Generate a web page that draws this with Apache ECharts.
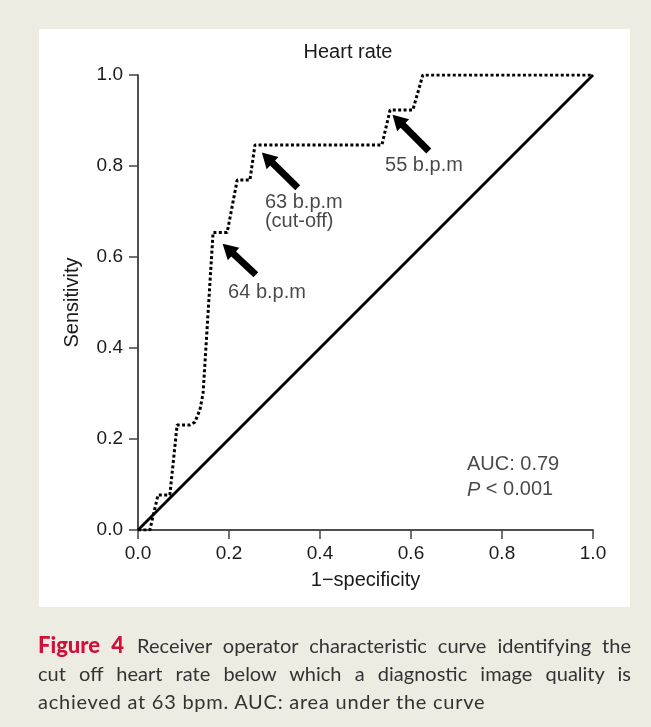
<!DOCTYPE html>
<html>
<head>
<meta charset="utf-8">
<script src="https://cdn.jsdelivr.net/npm/echarts@6/dist/echarts.min.js"></script>
<style>
  html, body { margin:0; padding:0; width:651px; height:727px; background:#edece2; overflow:hidden; }
  #panel { position:absolute; left:39px; top:29px; width:591px; height:578px; background:#ffffff; }
  #chart { position:absolute; left:0; top:0; width:651px; height:727px; }
  #caption { position:absolute; left:38px; top:631px; width:593px; font-family:Lato, "Open Sans", sans-serif;
    font-size:20px; line-height:28px; color:#333; }
  #caption div { white-space:normal; }
  #caption div.j { text-align:justify; text-align-last:justify; }
  #caption div.last { letter-spacing:0.75px; }
  #caption b { color:#d0103a; font-size:22px; font-weight:900; margin-right:2px; }
</style>
</head>
<body>
<div id="panel"></div>
<div id="chart"></div>
<div id="caption">
  <div class="j"><b>Figure 4</b> Receiver operator characteristic curve identifying the</div>
  <div class="j">cut off heart rate below which a diagnostic image quality is</div>
  <div class="last">achieved at 63 bpm. AUC: area under the curve</div>
</div>
<script>
// ROC curve (1-specificity, sensitivity)
const rocX = [0, 0.026, 0.044, 0.070, 0.086, 0.114, 0.125, 0.136, 0.143, 0.165, 0.196, 0.218, 0.246, 0.257, 0.536, 0.554, 0.604, 0.626, 1.0];
const rocY = [0, 0, 0.077, 0.077, 0.231, 0.231, 0.237, 0.264, 0.300, 0.654, 0.654, 0.769, 0.769, 0.846, 0.846, 0.923, 0.923, 1.0, 1.0];
const refX = [0, 1];
const refY = [0, 1];
const xTicks = ['0.0', '0.2', '0.4', '0.6', '0.8', '1.0'];
const yTicks = ['0.0', '0.2', '0.4', '0.6', '0.8', '1.0'];
// arrows: [tailX, tailY, tipX, tipY]
const arrows = [
  [0.259, 0.561, 0.198, 0.618],
  [0.351, 0.752, 0.284, 0.818],
  [0.639, 0.833, 0.571, 0.901]
];
// annotation texts: [x, y, text]
const notes = [
  [0.198, 0.521, '64 b.p.m'],
  [0.279, 0.719, '63 b.p.m'],
  [0.279, 0.677, '(cut-off)'],
  [0.543, 0.802, '55 b.p.m'],
  [0.723, 0.143, 'AUC: 0.79'],
  [0.723, 0.088, '{i|P} < 0.001']
];

const FONT = '"Liberation Sans", Arial, sans-serif';
const TXT = '#1a1a1a';
const chart = echarts.init(document.getElementById('chart'), null, {renderer:'canvas'});
const axisLine = {show:true, lineStyle:{color:'#444', width:1.5}};
chart.setOption({
  backgroundColor:'transparent',
  animation:false,
  grid:{left:138, top:75, width:455, height:455},
  graphic:[{type:'text', x:348, y:52, style:{text:'Heart rate', font:'20px ' + FONT, fill:TXT, textAlign:'center', textVerticalAlign:'middle'}}],
  xAxis:[{
    type:'value', min:0, max:1, interval:0.2, position:'bottom',
    axisLine:axisLine, splitLine:{show:false},
    axisTick:{show:true, length:9, lineStyle:{color:'#444', width:1.5}},
    axisLabel:{margin:14, fontSize:19, fontFamily:FONT, color:TXT, formatter:(v)=>xTicks[Math.round(v/0.2)]},
    name:'1\u2212specificity', nameLocation:'middle', nameGap:40,
    nameTextStyle:{fontSize:20, fontFamily:FONT, color:TXT}
  },{
    type:'value', min:0, max:1, position:'top', axisLine:axisLine, axisTick:{show:false}, axisLabel:{show:false}, splitLine:{show:false}
  }],
  yAxis:[{
    type:'value', min:0, max:1, interval:0.2, position:'left',
    axisLine:axisLine, splitLine:{show:false},
    axisTick:{show:true, length:9, lineStyle:{color:'#444', width:1.5}},
    axisLabel:{margin:15, fontSize:19, fontFamily:FONT, color:TXT, formatter:(v)=>yTicks[Math.round(v/0.2)]},
    name:'Sensitivity', nameLocation:'middle', nameGap:56, nameRotate:90,
    nameTextStyle:{fontSize:20, fontFamily:FONT, color:TXT}
  },{
    type:'value', min:0, max:1, position:'right', axisLine:axisLine, axisTick:{show:false}, axisLabel:{show:false}, splitLine:{show:false}
  }],
  series:[
    {type:'line', data:refX.map((x,i)=>[x, refY[i]]), symbol:'none', lineStyle:{color:'#000', width:2.8}, z:3},
    {type:'line', data:rocX.map((x,i)=>[x, rocY[i]]), symbol:'none', lineStyle:{color:'#000', width:3, type:[3,2.4], cap:'butt'}, z:4,
      markLine:{silent:true, symbol:['none','triangle'], symbolSize:[17,15],
        lineStyle:{color:'#000', width:7, type:'solid'}, label:{show:false},
        data:arrows.map(a=>[{coord:[a[0],a[1]]},{coord:[a[2],a[3]]}])}},
    {type:'scatter', data:notes.map(n=>({value:[n[0],n[1]], text:n[2]})), symbolSize:0, silent:true, z:5,
      label:{show:true, position:'right', distance:0, formatter:(p)=>p.data.text,
        fontSize:20, fontFamily:FONT, color:TXT,
        rich:{i:{fontStyle:'italic', fontSize:20, fontFamily:FONT, color:TXT}}}}
  ]
});
</script>
</body>
</html>
